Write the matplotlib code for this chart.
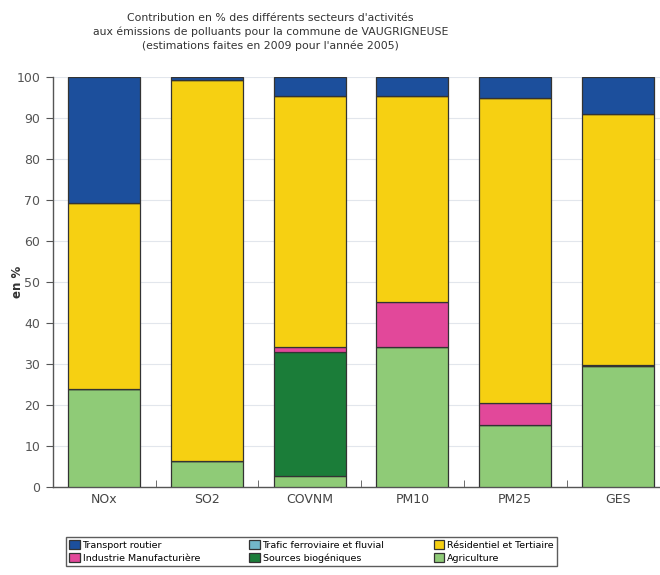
import matplotlib
matplotlib.use("Agg")
import matplotlib.pyplot as plt
import numpy as np

polluants = ["NOx", "SO2", "COVNM", "PM10", "PM25", "GES"]

# contributions en %
agriculture = [23.9, 6.4, 2.7, 34.2, 15.2, 29.6]
sources_biogeniques = [0, 0, 30.2, 0, 0, 0]
industrie = [0, 0, 1.3, 10.9, 5.4, 0.3]
residentiel = [45.5, 92.8, 61.2, 50.3, 74.3, 61.2]
trafic_ferro = [0, 0, 0, 0, 0, 0]
transport = [30.6, 0.8, 4.6, 4.6, 5.1, 8.9]

series = [
    ("Agriculture", agriculture, "#8fcb77"),
    ("Sources biogéniques", sources_biogeniques, "#1b7d39"),
    ("Industrie Manufacturière", industrie, "#e2489a"),
    ("Résidentiel et Tertiaire", residentiel, "#f6d012"),
    ("Trafic ferroviaire et fluvial", trafic_ferro, "#72b6c9"),
    ("Transport routier", transport, "#1c4f9c"),
]

fig = plt.figure(figsize=(6.6, 5.75), dpi=100)
ax = fig.add_axes([0.080, 0.1525, 0.92, 0.7135])

x = np.arange(len(polluants))
bottom = np.zeros(len(polluants))
handles = {}
for name, vals, col in series:
    vals = np.array(vals, dtype=float)
    b = ax.bar(x, vals, 0.7, bottom=bottom, color=col, edgecolor="#333333",
               linewidth=0.9, label=name, zorder=3)
    handles[name] = b
    bottom += vals

ax.set_xlim(-0.5, 5.41)
ax.set_ylim(0, 100)
ax.set_yticks(range(0, 101, 10))
ax.set_xticks(x)
ax.set_xticklabels(polluants)
ax.set_xticks(x[:-1] + 0.5, minor=True)
ax.tick_params(axis="x", which="major", length=0, labelsize=9, colors="#444444", pad=4)
ax.tick_params(axis="x", which="minor", length=5, direction="in", color="#555555")
ax.tick_params(axis="y", labelsize=9, colors="#555555", length=5, color="#555555", pad=4)
ax.yaxis.grid(True, color="#e2e6ec", linewidth=0.8, zorder=0)
for s in ["top", "right"]:
    ax.spines[s].set_visible(False)
for s in ["left", "bottom"]:
    ax.spines[s].set_color("#555555")
    ax.spines[s].set_linewidth(1.0)
ax.set_ylabel("en %", fontsize=8.5, fontweight="bold", color="#333333")
ax.yaxis.set_label_coords(-0.047, 0.5)

fig.text(0.41, 0.978,
         "Contribution en % des différents secteurs d'activités\n"
         "aux émissions de polluants pour la commune de VAUGRIGNEUSE\n"
         "(estimations faites en 2009 pour l'année 2005)",
         ha="center", va="top", fontsize=7.8, color="#333333", linespacing=1.45)

order = ["Transport routier", "Industrie Manufacturière",
         "Trafic ferroviaire et fluvial", "Sources biogéniques",
         "Résidentiel et Tertiaire", "Agriculture"]
leg = fig.legend([handles[n] for n in order], order, ncol=3,
                 loc="upper left", bbox_to_anchor=(0.1, 0.066, 0.744, 0.0),
                 mode="expand", fontsize=6.8, frameon=True, fancybox=False,
                 edgecolor="#333333", handlelength=1.1, handleheight=1.1,
                 handletextpad=0.3, borderpad=0.35, labelspacing=0.35,
                 columnspacing=1.0, borderaxespad=0)
leg.get_frame().set_linewidth(1.0)

fig.savefig("out.png", dpi=100)
